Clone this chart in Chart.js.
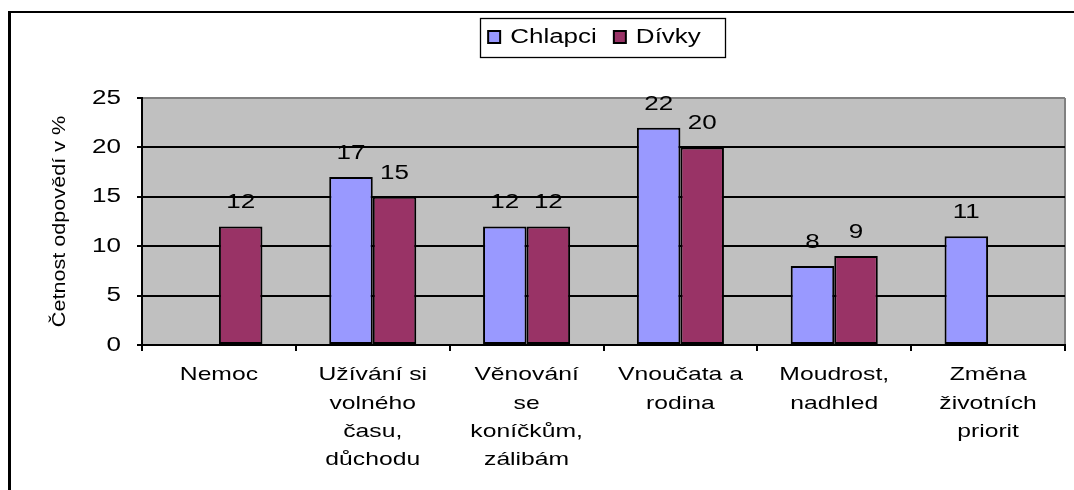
<!DOCTYPE html>
<html>
<head>
<meta charset="utf-8">
<script src="https://cdn.jsdelivr.net/npm/chart.js@4/dist/chart.umd.min.js"></script>
<style>
  html, body { margin: 0; padding: 0; background: #fff; }
  #wrap { width: 1074px; height: 490px; position: relative; }
</style>
</head>
<body>
<div id="wrap"><canvas id="c" width="1074" height="490"></canvas></div>
<script>
// ---- data ----
const categories = [
  ["Nemoc"],
  ["Užívání si", "volného", "času,", "důchodu"],
  ["Věnování", "se", "koníčkům,", "zálibám"],
  ["Vnoučata a", "rodina"],
  ["Moudrost,", "nadhled"],
  ["Změna", "životních", "priorit"]
];
const seriesNames = ["Chlapci", "Dívky"];
const chlapci = [null, 17, 12, 22, 8, 11];
const divky = [12, 15, 12, 20, 9, null];
const yTicks = [0, 5, 10, 15, 20, 25];
const yTitle = "Četnost odpovědí v %";

// ---- horizontally widened text (as in the reference rendering) ----
const SX = 1.3;      // horizontal text
const SX_ROT = 1.2;  // rotated axis title
const canvas = document.getElementById('c');
const ctx = canvas.getContext('2d');
const protoFill = CanvasRenderingContext2D.prototype.fillText;
const protoMeasure = CanvasRenderingContext2D.prototype.measureText;
function curSX(c) {
  const m = c.getTransform();
  return Math.abs(m.b) > 1e-6 ? SX_ROT : SX;
}
ctx.fillText = function (t, x, y, mw) {
  const s = curSX(this);
  this.save();
  this.translate(x, y);
  this.scale(s, 1);
  protoFill.call(this, t, 0, 0);
  this.restore();
};
ctx.measureText = function (t) {
  const m = protoMeasure.call(this, t);
  return {
    width: m.width * SX,
    actualBoundingBoxAscent: m.actualBoundingBoxAscent,
    actualBoundingBoxDescent: m.actualBoundingBoxDescent,
    actualBoundingBoxLeft: m.actualBoundingBoxLeft * SX,
    actualBoundingBoxRight: m.actualBoundingBoxRight * SX,
    fontBoundingBoxAscent: m.fontBoundingBoxAscent,
    fontBoundingBoxDescent: m.fontBoundingBoxDescent
  };
};

const FONT = "'Liberation Sans', Arial, sans-serif";
const PAD_TOP = 10;
const PLOT_TOP = 98, PLOT_LEFT = 142, PLOT_BOTTOM = 345;
const LEGEND_SHIFT = 57;

const framePlugin = {
  id: 'framePlugin',
  beforeLayout(chart) {
    const lg = chart.legend;
    if (lg && !lg._fixed) {
      const f = lg.fit;
      lg.fit = function () { f.call(this); this.height = PLOT_TOP - PAD_TOP; };
      lg._fixed = true;
    }
  },
  afterLayout(chart) {
    const lg = chart.legend;
    if (lg) { lg.left += LEGEND_SHIFT; lg.right += LEGEND_SHIFT; }
  },
  beforeDraw(chart) {
    const c = chart.ctx, a = chart.chartArea;
    c.save();
    c.fillStyle = '#ffffff';
    c.fillRect(0, 0, chart.width, chart.height);
    // outer frame (top and left)
    c.fillStyle = '#000';
    c.fillRect(9, 11, chart.width - 9, 2);
    c.fillRect(8, 11, 3, chart.height - 11);
    // plot background
    c.fillStyle = '#C0C0C0';
    c.fillRect(a.left, a.top, a.right - a.left, a.bottom - a.top);
    // right plot border
    c.strokeStyle = '#808080';
    c.lineWidth = 2;
    c.beginPath();
    c.moveTo(a.right, a.top);
    c.lineTo(a.right, a.bottom);
    c.stroke();
    c.restore();
  },
  afterDraw(chart) {
    const lg = chart.legend;
    if (!lg || !lg.legendHitBoxes || !lg.legendHitBoxes.length) return;
    const hb = lg.legendHitBoxes;
    const first = hb[0], last = hb[hb.length - 1];
    const cy = first.top + first.height / 2;
    const x0 = first.left - 8, x1 = last.left + last.width + 24;
    const c = chart.ctx;
    c.save();
    c.strokeStyle = '#000';
    c.lineWidth = 1.3;
    c.strokeRect(Math.round(x0) + 0.5, Math.round(cy - 19.5) + 0.5, Math.round(x1 - x0), 39);
    c.restore();
  },
  afterDatasetsDraw(chart) {
    const c = chart.ctx;
    c.save();
    c.font = "20px " + FONT;
    c.fillStyle = '#000';
    c.textAlign = 'center';
    c.textBaseline = 'middle';
    chart.data.datasets.forEach((ds, i) => {
      const meta = chart.getDatasetMeta(i);
      meta.data.forEach((el, j) => {
        const v = ds.data[j];
        if (v === null || v === undefined) return;
        c.fillText(String(v), el.x, el.y - 23.5);
      });
    });
    c.restore();
  }
};

new Chart(canvas, {
  type: 'bar',
  data: {
    labels: categories,
    datasets: [
      { label: seriesNames[0], data: chlapci, backgroundColor: '#9999FF', borderColor: '#000', borderWidth: 2, borderSkipped: false },
      { label: seriesNames[1], data: divky, backgroundColor: '#993366', borderColor: '#000', borderWidth: 2, borderSkipped: false }
    ]
  },
  options: {
    responsive: false,
    animation: false,
    devicePixelRatio: 1,
    layout: { padding: { left: 10, right: 9, top: PAD_TOP, bottom: 0 } },
    datasets: { bar: { categoryPercentage: 0.566, barPercentage: 1.0 } },
    plugins: {
      legend: {
        position: 'top',
        labels: {
          font: { family: FONT, size: 20 },
          color: '#000',
          boxWidth: 12,
          boxHeight: 12,
          padding: 17
        }
      },
      tooltip: { enabled: false }
    },
    scales: {
      x: {
        afterFit(scale) { scale.height = 490 - PLOT_BOTTOM; },
        grid: { display: true, drawOnChartArea: false, drawTicks: true, tickLength: 6, color: '#000', lineWidth: 2, offset: true },
        border: { display: true, color: '#000', width: 2 },
        ticks: {
          autoSkip: false, maxRotation: 0, minRotation: 0,
          color: '#000', padding: 10,
          font: { family: FONT, size: 19, lineHeight: 1.49 }
        }
      },
      y: {
        min: 0, max: 25,
        afterFit(scale) { scale.width = PLOT_LEFT - 10; },
        afterBuildTicks(scale) { scale.ticks = yTicks.map(v => ({ value: v })); },
        grid: {
          color: (c) => (c.tick && c.tick.value === 25 ? '#808080' : '#000'),
          tickColor: '#000',
          lineWidth: 2,
          tickLength: 5,
          drawTicks: true
        },
        border: { display: true, color: '#000', width: 2 },
        ticks: {
          color: '#000', padding: 16,
          font: { family: FONT, size: 20 }
        },
        title: {
          display: true,
          text: yTitle,
          color: '#000',
          font: { family: FONT, size: 18 },
          padding: { top: 39, bottom: 0 }
        }
      }
    }
  },
  plugins: [framePlugin]
});
</script>
</body>
</html>
